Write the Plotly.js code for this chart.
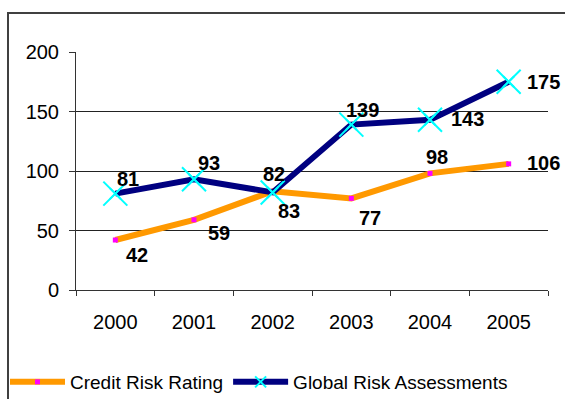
<!DOCTYPE html>
<html>
<head>
<meta charset="utf-8">
<script src="https://cdn.plot.ly/plotly-3.0.1.min.js"></script>
<style>html,body{margin:0;padding:0;background:#fff;}#chart{width:565px;height:399px;}</style>
</head>
<body>
<div id="chart"></div>
<script>
// ---- data ----
var years = ['2000', '2001', '2002', '2003', '2004', '2005'];
var creditRisk = [42, 59, 83, 77, 98, 106];
var globalRisk = [81, 93, 82, 139, 143, 175];
var seriesNames = ['Credit Risk Rating', 'Global Risk Assessments'];
var yTicks = [0, 50, 100, 150, 200];
var titleText = 'Growing Number of Assessments (2000-2005)';

// ---- label offsets (px, dy positive = down) ----
var creditOffsets = [[22, 15], [25, 13], [16, 20], [19, 20], [7, -16], [35, -1]];
var globalOffsets = [[13, -15], [15, -16], [1, -18], [11, -15], [37, -1], [35, 0]];

// ---- layout geometry ----
var W = 565, H = 399;
var M = {l: 76, r: 17, t: 52, b: 109, autoexpand: false};
var plotW = W - M.l - M.r, plotH = H - M.t - M.b;
function px2x(px) { return (px - M.l) / plotW; }
function px2y(py) { return 1 - (py - M.t) / plotH; }

var FONT = 'Arial, "Liberation Sans", sans-serif';

var traces = [
  {
    x: years, y: creditRisk, name: seriesNames[0], type: 'scatter', mode: 'lines+markers',
    line: {color: '#FF9900', width: 6},
    marker: {symbol: 'square', size: 5, color: '#FF00FF', line: {width: 0}},
    cliponaxis: false, hoverinfo: 'skip'
  },
  {
    x: years, y: globalRisk, name: seriesNames[1], type: 'scatter', mode: 'lines+markers',
    line: {color: '#000080', width: 6},
    marker: {symbol: 'x-thin-open', size: 11, color: '#00FFFF', line: {width: 2, color: '#00FFFF'}},
    cliponaxis: false, hoverinfo: 'skip'
  },
  {
    x: years, y: globalRisk, name: seriesNames[1], type: 'scatter', mode: 'markers',
    marker: {symbol: 'x-thin-open', size: 24, color: '#00FFFF', line: {width: 2, color: '#00FFFF'}},
    cliponaxis: false, hoverinfo: 'skip', showlegend: false
  }
];

var annotations = [];
function addLabels(vals, offs) {
  for (var i = 0; i < vals.length; i++) {
    annotations.push({
      x: i, y: vals[i], xref: 'x', yref: 'y', text: '<b>' + vals[i] + '</b>',
      showarrow: false, xanchor: 'center', yanchor: 'middle',
      xshift: offs[i][0], yshift: -offs[i][1],
      font: {family: FONT, size: 20, color: '#000'}
    });
  }
}
addLabels(creditRisk, creditOffsets);
addLabels(globalRisk, globalOffsets);

// partially visible title at the very top
annotations.push({
  x: px2x(310), y: px2y(2), xref: 'paper', yref: 'paper', text: '<b>' + titleText + '</b>',
  showarrow: false, xanchor: 'center', yanchor: 'bottom',
  font: {family: FONT, size: 24, color: '#000'}
});

var layout = {
  width: W, height: H,
  margin: M,
  paper_bgcolor: '#fff', plot_bgcolor: '#fff',
  font: {family: FONT, size: 20, color: '#000'},
  showlegend: true,
  legend: {
    orientation: 'h', xref: 'paper', yref: 'paper',
    x: px2x(5), xanchor: 'left', y: px2y(382), yanchor: 'middle',
    font: {family: FONT, size: 19, color: '#000'},
    bgcolor: 'rgba(0,0,0,0)', tracegroupgap: 0, itemwidth: 55
  },
  xaxis: {
    type: 'category', range: [-0.5, 5.5], fixedrange: true,
    showline: true, linecolor: '#333', linewidth: 1,
    ticks: 'outside', tickson: 'boundaries', ticklen: 5, tickcolor: '#333',
    showgrid: false, zeroline: false, ticklabelstandoff: 14,
    tickfont: {family: FONT, size: 20, color: '#000'}
  },
  yaxis: {
    range: [0, 200], tickvals: yTicks, fixedrange: true,
    showline: true, linecolor: '#333', linewidth: 1,
    ticks: 'outside', ticklen: 6, tickcolor: '#333',
    showgrid: true, gridcolor: '#222', gridwidth: 1, zeroline: false,
    tickfont: {family: FONT, size: 20, color: '#000'}, ticklabelstandoff: 6
  },
  shapes: [
    {type: 'rect', xref: 'paper', yref: 'paper', layer: 'above',
     x0: px2x(8), x1: px2x(W + 20), y0: px2y(H + 20), y1: px2y(13),
     line: {color: '#404040', width: 2}, fillcolor: 'rgba(0,0,0,0)'}
  ],
  annotations: annotations
};

Plotly.newPlot('chart', traces, layout, {staticPlot: true, displayModeBar: false});
</script>
</body>
</html>
